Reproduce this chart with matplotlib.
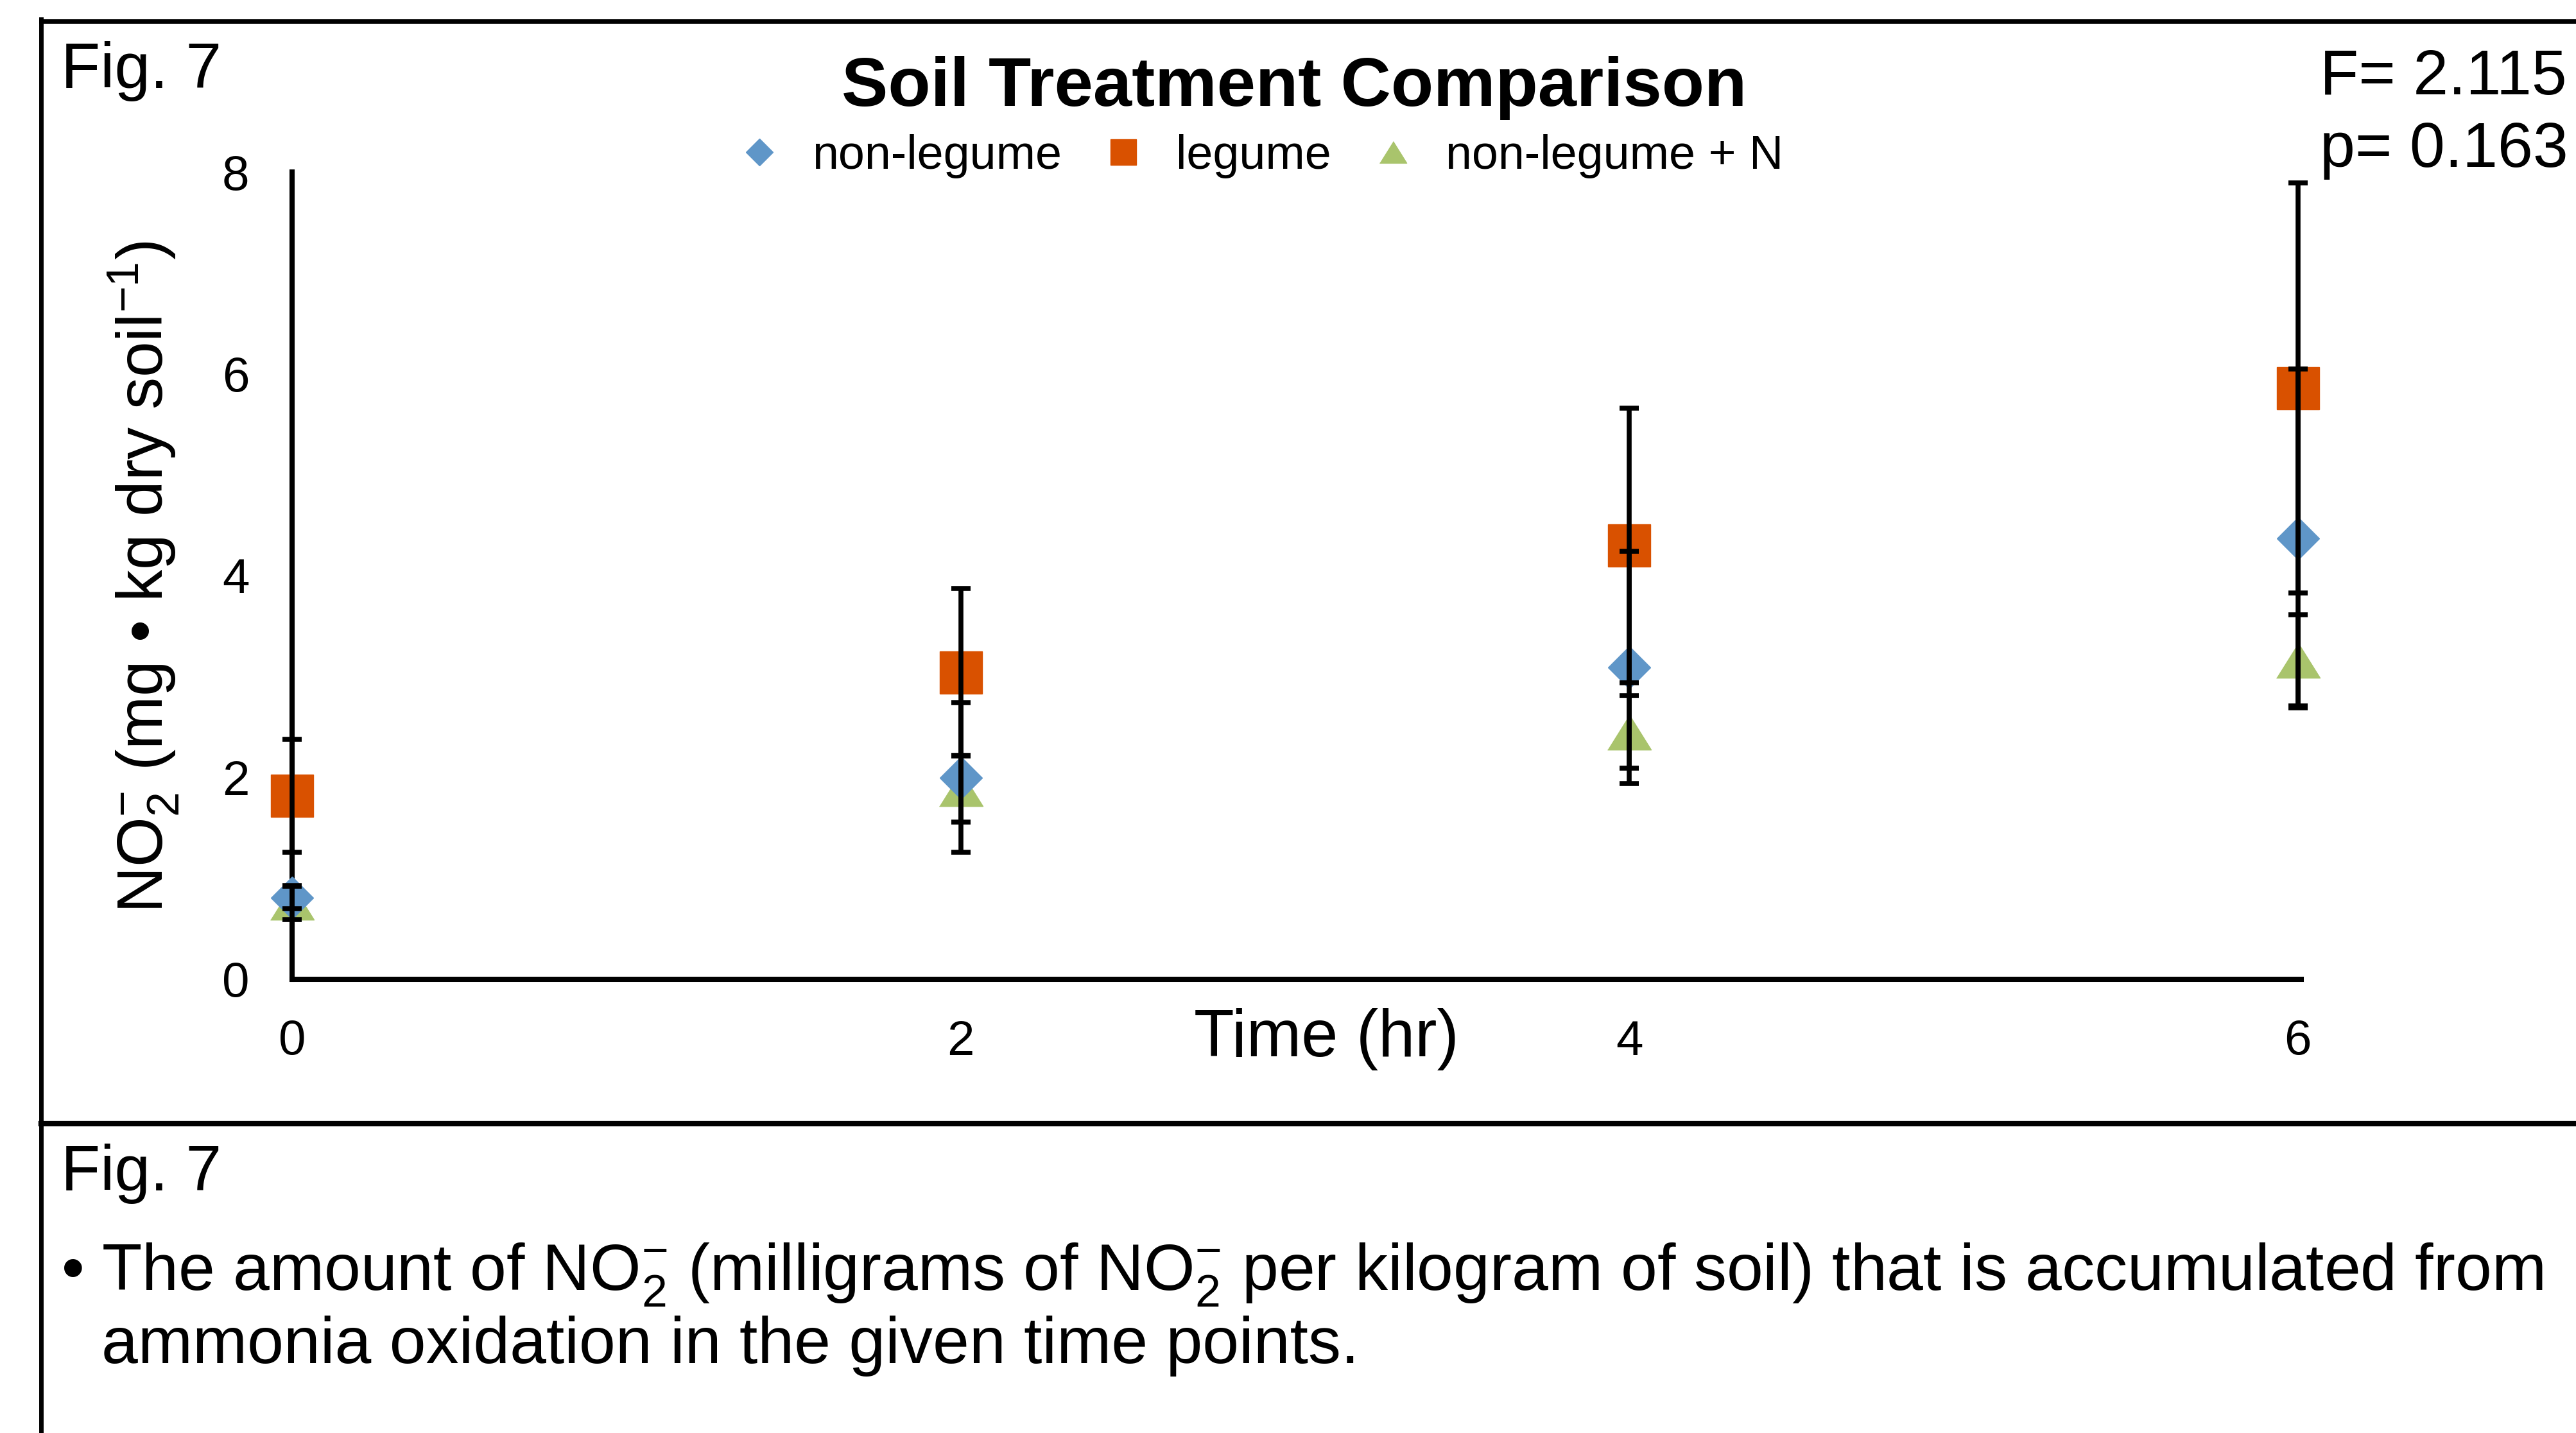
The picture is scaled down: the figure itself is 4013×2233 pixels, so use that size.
import matplotlib
matplotlib.use('Agg')
import matplotlib.pyplot as plt
from matplotlib.lines import Line2D

plt.rcParams['font.family'] = ['Liberation Sans', 'DejaVu Sans']
plt.rcParams['mathtext.fontset'] = 'custom'
plt.rcParams['mathtext.rm'] = 'Liberation Sans'
plt.rcParams['mathtext.it'] = 'Liberation Sans:italic'
plt.rcParams['mathtext.bf'] = 'Liberation Sans:bold'
plt.rcParams['mathtext.default'] = 'rm'

# data
time_hr = [0, 2, 4, 6]
non_legume = [0.81, 2.00, 3.09, 4.37]
non_legume_err = [0.11, 0.74, 1.15, 1.68]
legume = [1.82, 3.04, 4.30, 5.86]
legume_err = [0.56, 0.83, 1.36, 2.03]
non_legume_n = [0.76, 1.89, 2.45, 3.16]
non_legume_n_err = [0.17, 0.33, 0.36, 0.45]

x_ticks = [0, 2, 4, 6]
y_ticks = [0, 2, 4, 6, 8]

W, H = 4013, 2233


def fx(px):
    return px / W


def fy(py):
    return 1 - py / H


fig = plt.figure(figsize=(W / 100, H / 100), dpi=100)
ax = fig.add_axes([fx(455), fy(1526), fx(3585) - fx(455), fy(268) - fy(1526)])

# markers (blue sits on top of green)
h_n = ax.plot(time_hr, non_legume_n, linestyle='none',
              marker=[(-1, -0.8), (1, -0.8), (0, 0.8)], markersize=49,
              color='#A9C46C', clip_on=False, zorder=3, label='non-legume + N')[0]
h_l = ax.plot(time_hr, legume, linestyle='none', marker='s', markersize=47,
              color='#D95100', clip_on=False, zorder=3, label='legume')[0]
h_b = ax.plot(time_hr, non_legume, linestyle='none', marker='D', markersize=34,
              color='#5F96C8', clip_on=False, zorder=3, label='non-legume')[0]

# error bars over the markers
for vals, errs in [(non_legume_n, non_legume_n_err), (legume, legume_err),
                   (non_legume, non_legume_err)]:
    ax.errorbar(time_hr, vals, yerr=errs, fmt='none', ecolor='black',
                elinewidth=5.5, capsize=10.5, capthick=5.5, zorder=4,
                clip_on=False)

ax.set_xlim(0, 6.01)
ax.set_ylim(0, 8)
ax.set_xticks(x_ticks)
ax.set_yticks(y_ticks)
ax.tick_params(length=0, labelsize=55)
ax.tick_params(axis='x', pad=45)
ax.tick_params(axis='y', pad=48)
for side in ['top', 'right']:
    ax.spines[side].set_visible(False)
for side in ['left', 'bottom']:
    ax.spines[side].set_linewidth(5.8)
    ax.spines[side].set_color('black')

ax.legend(handles=[h_b, h_l, h_n], ncol=3, frameon=False, fontsize=53,
          markerscale=0.62, handlelength=1.0, handletextpad=0.62,
          columnspacing=0.8, loc='center',
          bbox_to_anchor=(fx(1962), fy(243)), bbox_transform=fig.transFigure,
          borderpad=0, borderaxespad=0)

# titles and labels
fig.text(fx(2016), fy(165), 'Soil Treatment Comparison', fontsize=78,
         fontweight='bold', ha='center', va='baseline')
fig.text(fx(2066), fy(1620), 'Time (hr)', fontsize=74, ha='center',
         va='center')
fig.text(fx(224), fy(899), r'NO$_2^{-}$ (mg • kg dry soil$^{-1}$)',
         fontsize=72, rotation=90, ha='center', va='center')

fig.text(fx(95), fy(137), 'Fig. 7', fontsize=72, va='baseline')
fig.text(fx(3614), fy(147), 'F= 2.115', fontsize=71, va='baseline')
fig.text(fx(3614), fy(260), 'p= 0.163', fontsize=71, va='baseline')

# caption panel
fig.text(fx(95), fy(1855), 'Fig. 7', fontsize=72, va='baseline')
fig.text(fx(96), fy(2010), '•', fontsize=73.5, va='baseline')
fig.text(fx(158), fy(2010),
         r'The amount of NO$_2^{-}$ (milligrams of NO$_2^{-}$ per kilogram of soil) '
         r'that is accumulated from', fontsize=73.5, va='baseline')
fig.text(fx(158), fy(2124), 'ammonia oxidation in the given time points.',
         fontsize=73.5, va='baseline')

# frame lines
lw = 5
fig.add_artist(Line2D([fx(64), 1], [fy(33), fy(33)], color='black', lw=lw))
fig.add_artist(Line2D([fx(64), fx(64)], [fy(30), 0], color='black', lw=lw))
fig.add_artist(Line2D([fx(64), 1], [fy(1751), fy(1751)], color='black', lw=6))

plt.savefig('out.png', dpi=100)
